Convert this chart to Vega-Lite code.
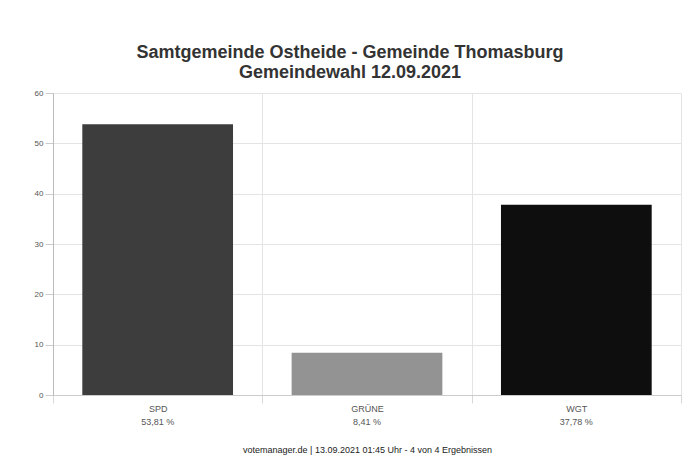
{
  "$schema": "https://vega.github.io/schema/vega-lite/v6.json",
  "width": 628,
  "height": 302,
  "autosize": {"type": "none"},
  "padding": {"left": 53, "top": 93, "right": 13, "bottom": 72},
  "background": "white",
  "title": {
    "text": ["Samtgemeinde Ostheide - Gemeinde Thomasburg", "Gemeindewahl 12.09.2021"],
    "font": "Liberation Sans",
    "fontSize": 18,
    "fontWeight": "bold",
    "color": "#333333",
    "lineHeight": 20,
    "anchor": "middle",
    "frame": "group",
    "dx": -17,
    "offset": 7
  },
  "data": {
    "values": [
      {"partei": "SPD", "prozent": 53.81},
      {"partei": "GRÜNE", "prozent": 8.41},
      {"partei": "WGT", "prozent": 37.78}
    ]
  },
  "transform": [
    {"calculate": "replace(format(datum.prozent, '.2f'), '.', ',') + ' %'", "as": "label"}
  ],
  "encoding": {
    "x": {
      "field": "partei",
      "type": "nominal",
      "sort": null,
      "scale": {"paddingInner": 0, "paddingOuter": 0},
      "axis": {
        "title": "votemanager.de | 13.09.2021 01:45 Uhr - 4 von 4 Ergebnissen",
        "titleFont": "Liberation Sans",
        "titleFontSize": 9,
        "titleFontWeight": "normal",
        "titleColor": "#222222",
        "titlePadding": 32,
        "labelAngle": 0,
        "labelFont": "Liberation Sans",
        "labelFontSize": 9,
        "labelColor": "#555555",
        "labelPadding": 1,
        "tickBand": "extent",
        "tickSize": 8,
        "tickColor": "#d8d8d8",
        "grid": true,
        "gridColor": "#e4e4e4",
        "domainColor": "#cccccc"
      }
    }
  },
  "layer": [
    {
      "mark": {"type": "bar", "width": {"band": 0.72}},
      "encoding": {
        "y": {
          "field": "prozent",
          "type": "quantitative",
          "scale": {"domain": [0, 60], "nice": false},
          "axis": {
            "title": null,
            "values": [0, 10, 20, 30, 40, 50, 60],
            "labelFont": "Liberation Sans",
            "labelFontSize": 8,
            "labelColor": "#555555",
            "labelPadding": 2,
            "tickSize": 8,
            "tickColor": "#cccccc",
            "gridColor": "#e4e4e4",
            "domainColor": "#bbbbbb"
          }
        },
        "color": {
          "field": "partei",
          "type": "nominal",
          "scale": {"domain": ["SPD", "GRÜNE", "WGT"], "range": ["#3d3d3d", "#939393", "#0e0e0e"]},
          "legend": null
        }
      }
    },
    {
      "mark": {"type": "text", "font": "Liberation Sans", "fontSize": 9, "color": "#555555", "baseline": "middle", "dy": 27},
      "encoding": {
        "y": {"datum": 0},
        "text": {"field": "label"}
      }
    }
  ],
  "config": {"view": {"stroke": null}}
}
